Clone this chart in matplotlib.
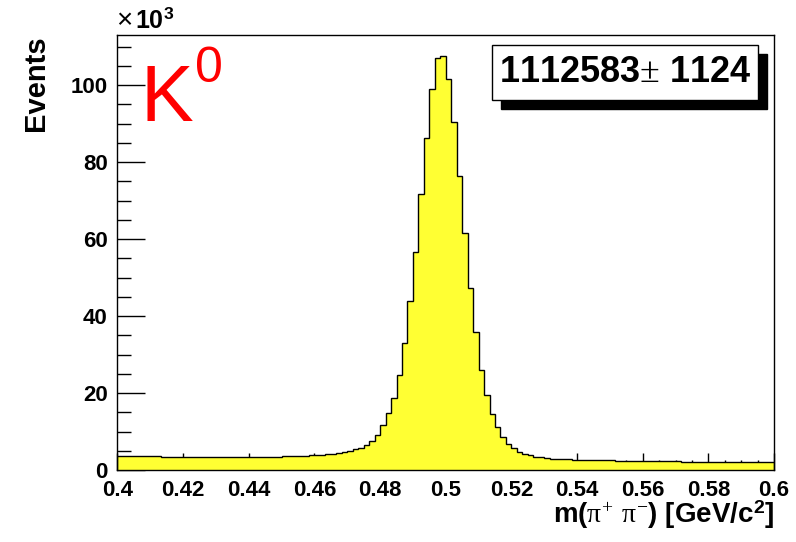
import matplotlib
matplotlib.use("Agg")
import matplotlib.pyplot as plt
from matplotlib.ticker import MultipleLocator
from matplotlib.patches import Rectangle
import numpy as np

# histogram of m(pi+ pi-), 120 bins from 0.4 to 0.6, counts in units of 10^3
x_lo = 0.4
x_hi = 0.6
counts_k = [
    3.65, 3.64, 3.62, 3.60, 3.58, 3.56, 3.54, 3.52, 3.50, 3.48,
    3.46, 3.44, 3.42, 3.40, 3.38, 3.36, 3.34, 3.32, 3.31, 3.30,
    3.30, 3.31, 3.32, 3.33, 3.35, 3.37, 3.40, 3.43, 3.46, 3.50,
    3.54, 3.58, 3.63, 3.68, 3.74, 3.81, 3.89, 3.98, 4.10, 4.25,
    4.45, 4.70, 5.00, 5.35, 5.80, 6.50, 7.50, 9.20, 11.6, 14.7,
    18.6, 24.6, 32.9, 43.9, 56.7, 71.7, 86.3, 99.1, 106.9, 107.5,
    101.5, 90.3, 76.4, 61.5, 47.2, 35.8, 26.1, 19.5, 14.6, 11.1,
    8.70, 6.75, 5.60, 4.75, 4.20, 3.80, 3.50, 3.30, 3.10, 2.98,
    2.90, 2.83, 2.77, 2.72, 2.68, 2.64, 2.60, 2.57, 2.54, 2.51,
    2.48, 2.45, 2.43, 2.41, 2.39, 2.37, 2.35, 2.33, 2.31, 2.29,
    2.27, 2.25, 2.23, 2.21, 2.20, 2.18, 2.17, 2.15, 2.14, 2.13,
    2.12, 2.11, 2.10, 2.09, 2.08, 2.07, 2.06, 2.05, 2.04, 2.03,
]
x_tick_labels = ['0.4', '0.42', '0.44', '0.46', '0.48', '0.5',
                 '0.52', '0.54', '0.56', '0.58', '0.6']
yield_text = "1112583$\\pm$ 1124"

plt.rcParams['font.family'] = ['Liberation Sans', 'DejaVu Sans']
plt.rcParams['mathtext.fontset'] = 'custom'
plt.rcParams['mathtext.rm'] = 'Liberation Serif'
plt.rcParams['mathtext.it'] = 'Liberation Serif'
plt.rcParams['mathtext.bf'] = 'Liberation Sans:bold'

edges = np.linspace(x_lo, x_hi, len(counts_k) + 1)

fig = plt.figure(figsize=(7.96, 5.42), dpi=100)
ax = fig.add_axes([0.1476, 0.1328, 0.8248, 0.8026])

ax.stairs(counts_k, edges, fill=True, facecolor='#ffff33', edgecolor='none',
          linewidth=0, zorder=2)
ax.stairs(counts_k, edges, color='black', linewidth=1.0, zorder=3)

ax.set_xlim(x_lo, x_hi)
ax.set_ylim(0, 113)
ax.set_xticks(np.linspace(x_lo, x_hi, len(x_tick_labels)))
ax.set_xticklabels(x_tick_labels)
ax.xaxis.set_minor_locator(MultipleLocator(0.005))
ax.yaxis.set_major_locator(MultipleLocator(20))
ax.yaxis.set_minor_locator(MultipleLocator(5))
ax.tick_params(axis='both', which='both', direction='in', top=False, right=False,
               labelsize=16, width=1.0)
ax.tick_params(axis='x', which='major', length=12, pad=7)
ax.tick_params(axis='x', which='minor', length=7)
ax.tick_params(axis='y', which='major', length=20, pad=7)
ax.tick_params(axis='y', which='minor', length=10)
for lab in ax.get_xticklabels() + ax.get_yticklabels():
    lab.set_fontweight('bold')
for sp in ax.spines.values():
    sp.set_linewidth(1.0)
    sp.set_zorder(4)

# x10^3 multiplier above the y axis
fig.text(0.146, 0.937, "\u00d7", fontsize=20, ha='left', va='bottom')
fig.text(0.169, 0.940, "10$^{\\mathbf{3}}$", fontsize=18, fontweight='bold',
         ha='left', va='bottom')

fig.text(0.045, 0.935, "Events", rotation=90, fontsize=21, fontweight='bold',
         ha='center', va='top')
fig.text(0.9724, 0.02, "m($\\pi^{+}$ $\\pi^{-}$) [GeV/c$^{\\mathbf{2}}$]",
         fontsize=20, fontweight='bold', ha='right', va='bottom')

ax.text(0.035, 0.935, "K", color='red', fontsize=57, transform=ax.transAxes,
        ha='left', va='top')
ax.text(0.118, 0.975, "0", color='red', fontsize=36, transform=ax.transAxes,
        ha='left', va='top')

# yield box with shadow
bx0, by0, bw, bh = 492 / 796, 1 - 100 / 542, 266 / 796, 55 / 542
fig.patches.append(Rectangle((bx0 + 9 / 796, by0 - 9 / 542), bw, bh,
                             transform=fig.transFigure, facecolor='black',
                             edgecolor='black', zorder=5))
fig.patches.append(Rectangle((bx0, by0), bw, bh, transform=fig.transFigure,
                             facecolor='white', edgecolor='black', linewidth=1.0,
                             zorder=6))
fig.text(bx0 + bw / 2, by0 + bh / 2, yield_text, fontsize=26,
         fontweight='bold', ha='center', va='center', zorder=7)

fig.savefig("out.png", dpi=100)
